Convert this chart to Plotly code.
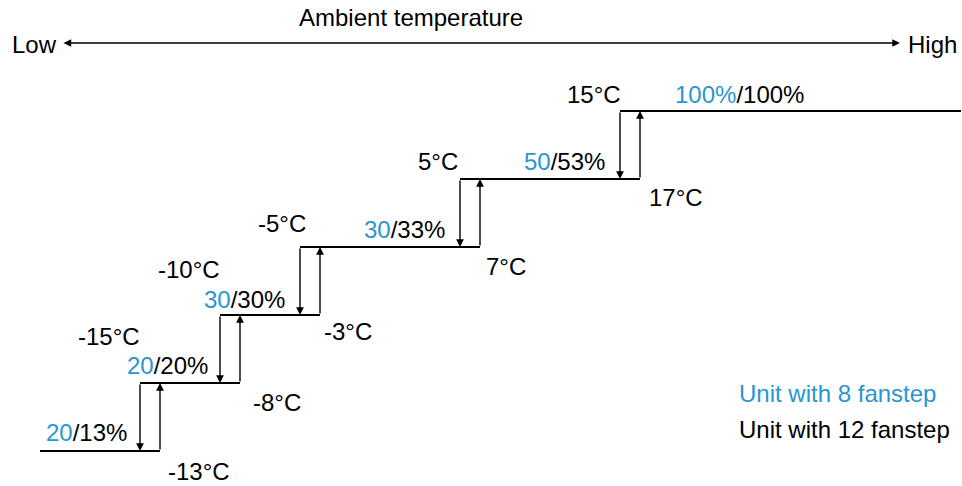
import plotly.graph_objects as go

# ---- data ----
fan8 = ["20", "20", "30", "30", "50", "100%"]          # unit with 8 fansteps (blue)
fan12 = ["13%", "20%", "30%", "33%", "53%", "100%"]    # unit with 12 fansteps (black)
down_temps = [-15, -10, -5, 5, 15]                     # switch-down thresholds
up_temps = [-13, -8, -3, 7, 17]                        # switch-up thresholds
axis_title = "Ambient temperature"
low_label, high_label = "Low", "High"
legend_labels = ["Unit with 8 fanstep", "Unit with 12 fanstep"]

# ---- style / layout ----
BLUE = "#2B95D2"
FONT = "Liberation Sans, Arial, sans-serif"
FS = 24
W, H = 962, 486
X0, SX = 380, 16      # schematic x: px at 0 degC, px per degC
Y0, SY = 451, 68      # schematic y: px of level 0, px per level
GAP = 20 / SX         # drawn hysteresis gap between down and up arrows


def px_x(p):
    return (p - X0) / SX


def px_y(p):
    return (Y0 - p) / SY


def off_x(d):
    return d / SX


def off_y(d):
    return -d / SY


n = len(fan8)
up_pos = [t + GAP for t in down_temps]
seg_start = [px_x(40)] + down_temps
seg_end = up_pos + [px_x(961)]

xs, ys = [], []
for i in range(n):
    xs += [seg_start[i], seg_end[i], None]
    ys += [i, i, None]

fig = go.Figure()
fig.add_trace(go.Scatter(x=xs, y=ys, mode="lines",
                         line=dict(color="black", width=2),
                         hoverinfo="skip", showlegend=False))

ann = []


def arrow(x, y, ax, ay, side="end", w=1.4):
    ann.append(dict(x=x, y=y, ax=ax, ay=ay, xref="x", yref="y",
                    axref="x", ayref="y", showarrow=True, arrowhead=2,
                    arrowsize=1.1, arrowwidth=w, arrowcolor="black",
                    arrowside=side, standoff=0, startstandoff=0, text=""))


def label(x, y, text, color="black", xanchor="center"):
    ann.append(dict(x=x, y=y, xref="x", yref="y", text=text, showarrow=False,
                    xanchor=xanchor, yanchor="middle",
                    font=dict(family=FONT, size=FS, color=color)))


# hysteresis arrows
for i, t in enumerate(down_temps):
    arrow(t, i, t, i + 1)                 # down arrow
    arrow(up_pos[i], i + 1, up_pos[i], i)  # up arrow

# down-threshold labels (offset from top of down arrow, px)
down_off = [(-31, -47), (-31, -46), (-18, -24), (-22, -18), (-26, -17)]
for i, t in enumerate(down_temps):
    label(t + off_x(down_off[i][0]), i + 1 + off_y(down_off[i][1]), f"{t}°C")

# up-threshold labels (offset from bottom of up arrow, px)
up_off = [(39, 20), (37, 19), (28, 16), (26, 19), (36, 18)]
for i, t in enumerate(up_temps):
    label(up_pos[i] + off_x(up_off[i][0]), i + off_y(up_off[i][1]), f"{t}°C")

# level labels
lvl_anchor = up_pos + [up_pos[-1]]
lvl_off = [(-74, -19), (-73, -18), (-76, -16), (-76, -18), (-76, -18), (99, -17)]
for i in range(n):
    txt = f"<span style='color:{BLUE}'>{fan8[i]}</span>/{fan12[i]}"
    label(lvl_anchor[i] + off_x(lvl_off[i][0]), i + off_y(lvl_off[i][1]), txt)

# ambient temperature axis
arrow(px_x(900), px_y(43), px_x(62), px_y(43), side="end+start", w=1.4)
label(px_x(411), px_y(17), axis_title)
label(px_x(10), px_y(44), low_label, xanchor="left")
label(px_x(906), px_y(44), high_label, xanchor="left")

# legend text
label(px_x(737), px_y(393), legend_labels[0], color=BLUE, xanchor="left")
label(px_x(737), px_y(429), legend_labels[1], xanchor="left")

fig.update_layout(
    width=W, height=H,
    margin=dict(l=0, r=0, t=0, b=0),
    paper_bgcolor="white", plot_bgcolor="white",
    xaxis=dict(range=[px_x(0), px_x(W)], visible=False, fixedrange=True),
    yaxis=dict(range=[px_y(H), px_y(0)], visible=False, fixedrange=True),
    annotations=ann,
    showlegend=False,
)

fig.write_html("out.html",
               config={"displayModeBar": False, "staticPlot": True},
               post_script="document.body.style.margin='0';"
                           "document.body.style.overflow='hidden';")
